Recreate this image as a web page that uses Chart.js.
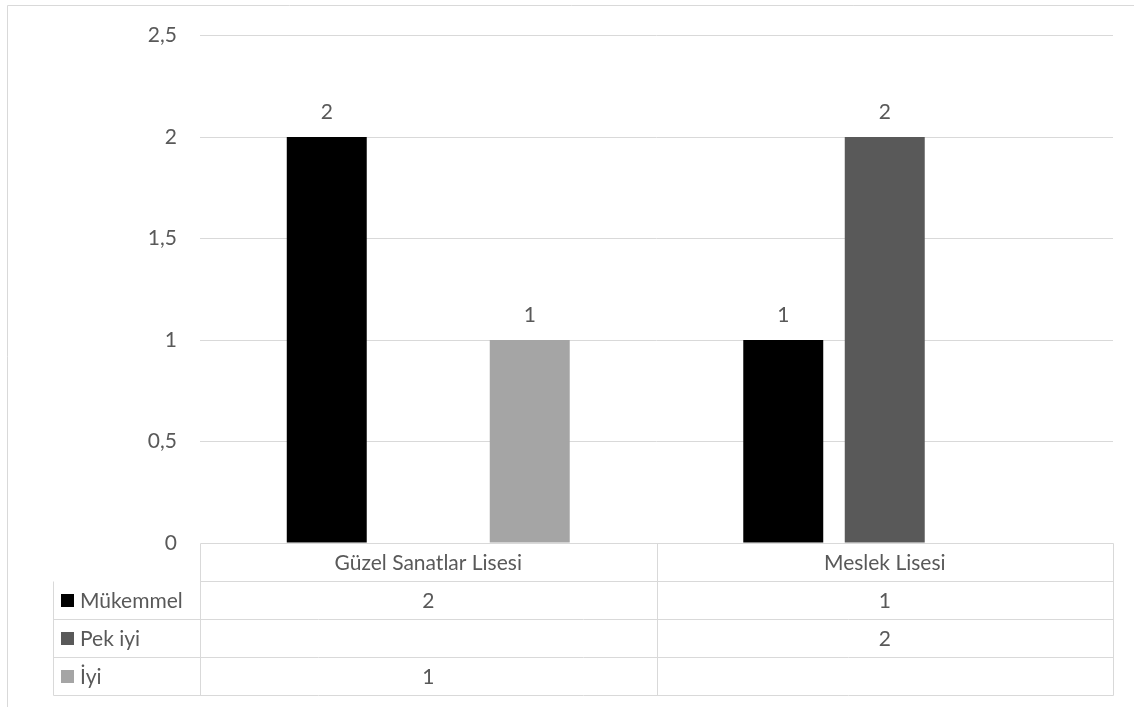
<!DOCTYPE html>
<html>
<head>
<meta charset="utf-8">
<script src="https://cdn.jsdelivr.net/npm/chart.js@4"></script>
<style>
  html, body { margin: 0; padding: 0; background: #fff; overflow: hidden; }
  #wrap { width: 1134px; height: 707px; }
</style>
</head>
<body>
<div id="wrap"><canvas id="chart" width="1134" height="707"></canvas></div>
<script>
const categories = ['Güzel Sanatlar Lisesi', 'Meslek Lisesi'];
const seriesNames = ['Mükemmel', 'Pek iyi', 'İyi'];
const mukemmel = [2, 1];
const pekIyi = [null, 2];
const iyi = [1, null];
const yTicks = [0, 0.5, 1, 1.5, 2, 2.5];

const colors = ['#000000', '#595959', '#a5a5a5'];
const textColor = '#595959';
const lineColor = '#d9d9d9';
const FONT = 'Lato, "Open Sans", sans-serif';
const fontSize = 21;

const fmt = (v) => String(v).replace('.', ',');

// value labels above bars
const barLabels = {
  id: 'barLabels',
  afterDatasetsDraw(chart) {
    const ctx = chart.ctx;
    ctx.save();
    ctx.fillStyle = textColor;
    ctx.font = `${fontSize}px ${FONT}`;
    ctx.textAlign = 'center';
    ctx.textBaseline = 'alphabetic';
    chart.data.datasets.forEach((ds, i) => {
      chart.getDatasetMeta(i).data.forEach((el, j) => {
        const v = ds.data[j];
        if (v == null) return;
        ctx.fillText(fmt(v), el.x, el.y - 18);
      });
    });
    ctx.restore();
  }
};

// data table under the plot + outer frame
const dataTable = {
  id: 'dataTable',
  afterDraw(chart) {
    const ctx = chart.ctx;
    const { left, right, bottom } = chart.chartArea;
    const x = chart.scales.x;
    const rowH = 38;
    const tableLeft = 53;
    const catW = (right - left) / categories.length;
    const px = (v) => Math.round(v) + 0.5;

    ctx.save();
    ctx.strokeStyle = lineColor;
    ctx.lineWidth = 1;

    // outer chart frame
    ctx.beginPath();
    ctx.moveTo(px(7), chart.height + 2);
    ctx.lineTo(px(7), px(5));
    ctx.lineTo(chart.width + 2, px(5));
    ctx.stroke();

    // grid of the table
    ctx.beginPath();
    ctx.moveTo(px(left), px(bottom));
    ctx.lineTo(px(right), px(bottom));
    for (let r = 1; r <= seriesNames.length + 1; r++) {
      const y = px(bottom + r * rowH);
      ctx.moveTo(r === 1 ? px(left) : px(tableLeft), y);
      ctx.lineTo(px(right), y);
    }
    ctx.moveTo(px(tableLeft), px(bottom + rowH));
    ctx.lineTo(px(tableLeft), px(bottom + (seriesNames.length + 1) * rowH));
    for (let c = 0; c <= categories.length; c++) {
      const cx = px(left + c * catW);
      ctx.moveTo(cx, px(bottom));
      ctx.lineTo(cx, px(bottom + (seriesNames.length + 1) * rowH));
    }
    ctx.stroke();

    ctx.fillStyle = textColor;
    ctx.font = `${fontSize}px ${FONT}`;
    ctx.textBaseline = 'middle';
    ctx.textAlign = 'center';
    categories.forEach((c, i) => {
      ctx.fillText(c, x.getPixelForValue(i), bottom + rowH / 2 + 1);
    });

    chart.data.datasets.forEach((ds, r) => {
      const yMid = bottom + (r + 1) * rowH + rowH / 2;
      ctx.fillStyle = ds.backgroundColor;
      ctx.fillRect(tableLeft + 8, Math.round(yMid - 6), 13, 13);
      ctx.fillStyle = textColor;
      ctx.textAlign = 'left';
      ctx.fillText(ds.label, tableLeft + 27, yMid + 1);
      ctx.textAlign = 'center';
      ds.data.forEach((v, j) => {
        if (v == null) return;
        ctx.fillText(fmt(v), x.getPixelForValue(j), yMid + 1);
      });
    });
    ctx.restore();
  }
};

new Chart(document.getElementById('chart'), {
  type: 'bar',
  data: {
    labels: categories,
    datasets: [
      { label: seriesNames[0], data: mukemmel, backgroundColor: colors[0] },
      { label: seriesNames[1], data: pekIyi, backgroundColor: colors[1] },
      { label: seriesNames[2], data: iyi, backgroundColor: colors[2] }
    ]
  },
  options: {
    responsive: false,
    animation: false,
    devicePixelRatio: 1,
    categoryPercentage: 0.667,
    barPercentage: 0.788,
    layout: { padding: { left: 8, right: 21, top: 35, bottom: 164 } },
    plugins: { legend: { display: false }, tooltip: { enabled: false } },
    scales: {
      x: { display: false },
      y: {
        min: 0,
        max: 2.5,
        afterFit(s) { s.width = 192; },
        afterBuildTicks(s) { s.ticks = yTicks.map((v) => ({ value: v })); },
        border: { display: false },
        grid: {
          color: (c) => (c.tick && c.tick.value === 0 ? 'rgba(0,0,0,0)' : lineColor),
          lineWidth: 1,
          drawTicks: false
        },
        ticks: {
          padding: 23,
          color: textColor,
          font: { family: FONT, size: fontSize },
          callback: (v) => fmt(v)
        }
      }
    }
  },
  plugins: [barLabels, dataTable]
});
</script>
</body>
</html>
